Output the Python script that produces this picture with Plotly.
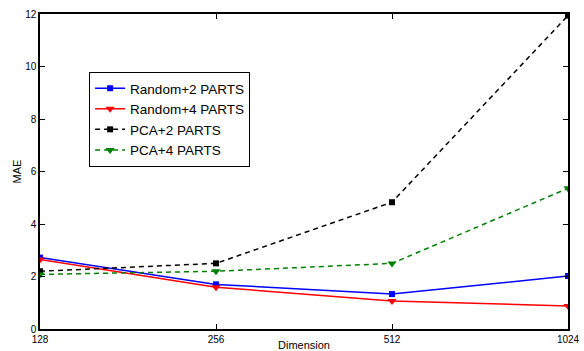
import plotly.graph_objects as go

dims = [128, 256, 512, 1024]
random2 = [2.72, 1.70, 1.33, 2.02]
random4 = [2.65, 1.59, 1.07, 0.88]
pca2 = [2.20, 2.50, 4.83, 11.94]
pca4 = [2.08, 2.20, 2.50, 5.36]
ytick_vals = [0, 2, 4, 6, 8, 10, 12]

series = [
    ("Random+2 PARTS", random2, "#0000ff", "solid", "square", 6),
    ("Random+4 PARTS", random4, "#ff0000", "solid", "triangle-down", 8),
    ("PCA+2 PARTS", pca2, "#000000", "5px,4px", "square", 6),
    ("PCA+4 PARTS", pca4, "#008000", "5px,4px", "triangle-down", 8),
]

fig = go.Figure()
for name, vals, color, dash, sym, msize in series:
    fig.add_trace(go.Scatter(
        x=dims, y=vals, name=name, mode="lines+markers",
        line=dict(color=color, width=1.5, dash=dash),
        marker=dict(symbol=sym, size=msize, color=color),
    ))

font = "Liberation Sans, Arial, sans-serif"
fig.update_layout(
    width=584, height=351,
    margin=dict(l=40, r=16, t=14, b=22, autoexpand=False),
    paper_bgcolor="white", plot_bgcolor="white",
    font=dict(family=font, size=10, color="#000000"),
    showlegend=True,
    legend=dict(
        x=0.093, y=0.816, xanchor="left", yanchor="top",
        bordercolor="#000000", borderwidth=1, bgcolor="white",
        font=dict(size=13.5, family=font),
        tracegroupgap=0, itemwidth=30,
    ),
    xaxis=dict(
        type="log", range=[2.1072, 3.0103], automargin=False,
        tickvals=dims, ticktext=[str(d) for d in dims],
        ticks="inside", ticklen=5, tickcolor="#000000",
        showline=True, linecolor="#000000", linewidth=1.5, mirror="ticks",
        showgrid=False, zeroline=False,
        title=dict(text="Dimension", font=dict(size=11), standoff=1),
        tickfont=dict(size=10),
    ),
    yaxis=dict(
        range=[0, 12], tickvals=ytick_vals, automargin=False,
        ticks="inside", ticklen=5, tickcolor="#000000",
        showline=True, linecolor="#000000", linewidth=1.5, mirror="ticks",
        showgrid=False, zeroline=False,
        title=dict(text="MAE", font=dict(size=11), standoff=1),
        tickfont=dict(size=10),
    ),
)

fig.write_html(
    "out.html",
    config={"displayModeBar": False},
    post_script="document.body.style.margin='0';document.body.style.overflow='hidden';",
)
